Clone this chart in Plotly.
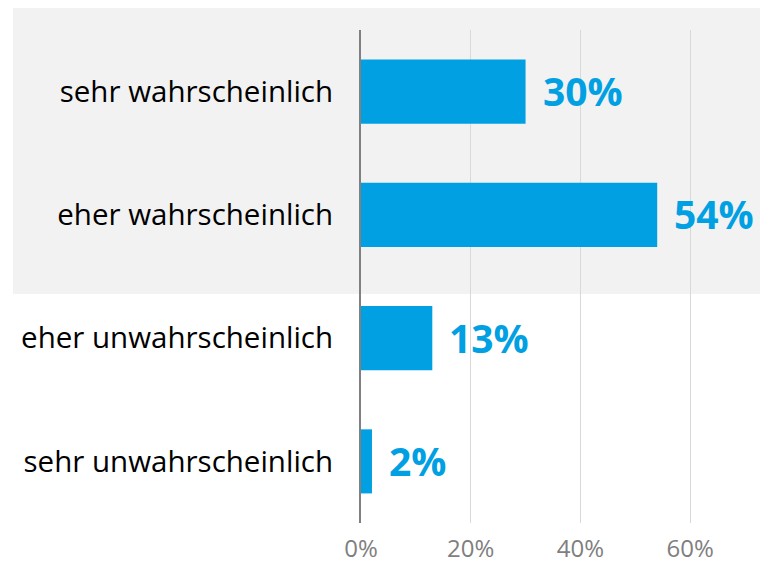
import plotly.graph_objects as go

categories = ["sehr wahrscheinlich", "eher wahrscheinlich", "eher unwahrscheinlich", "sehr unwahrscheinlich"]
values = [30, 54, 13, 2]
tick_vals = [0, 20, 40, 60]
tick_text = ["0%", "20%", "40%", "60%"]

BLUE = "#00a0e3"

fig = go.Figure()
fig.add_trace(go.Bar(
    x=values, y=categories, orientation="h",
    marker=dict(color=BLUE, line=dict(width=0)),
    hoverinfo="skip",
))

# value labels next to bar ends
for c, v in zip(categories, values):
    fig.add_annotation(
        x=v, y=c, text=f"<b>{v}%</b>", showarrow=False,
        xanchor="left", xshift=15, yshift=1,
        font=dict(family="Open Sans", size=39, color=BLUE),
    )

# grey band behind the upper two categories
fig.add_shape(
    type="rect", xref="paper", yref="paper",
    x0=-0.855, x1=1.0, y0=0.4645, y1=1.0446,
    fillcolor="#f2f2f2", line=dict(width=0), layer="below",
)

# page body adds an 8px offset, so the figure is 8px smaller
fig.update_layout(
    width=760, height=557,
    margin=dict(l=353, r=0, t=22, b=42),
    paper_bgcolor="white",
    plot_bgcolor="rgba(0,0,0,0)",
    showlegend=False,
    bargap=0.48,
    font=dict(family="Open Sans"),
    xaxis=dict(
        range=[0, 74.2], tickvals=tick_vals, ticktext=tick_text,
        showgrid=True, gridcolor="#d9d9d9", gridwidth=1,
        zeroline=False, showline=False, automargin=False,
        tickfont=dict(size=24, color="#7f7f7f"),
        ticklabelstandoff=9,
    ),
    yaxis=dict(
        autorange="reversed", showgrid=False, zeroline=False,
        showline=True, linecolor="#808080", linewidth=2, automargin=False,
        ticks="", tickfont=dict(size=29.5, color="black"),
        ticklabelstandoff=20,
    ),
)

fig.write_html("out.html")
